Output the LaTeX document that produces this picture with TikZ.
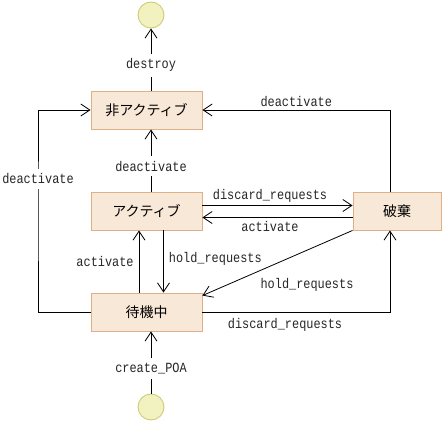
\documentclass[tikz,border=0pt]{standalone}
\usepackage{fontspec}
\setmonofont{Liberation Mono}[FakeStretch=0.85]
\newfontfamily\jpfont{Noto Sans CJK JP}
\usetikzlibrary{arrows.meta}
\definecolor{boxfill}{HTML}{F8E8D8}
\definecolor{boxline}{HTML}{DDB088}
\definecolor{circfill}{HTML}{F2F2C0}
\definecolor{circline}{HTML}{CCCC77}
\tikzset{
  state/.style={draw=boxline, fill=boxfill, line width=0.9pt, minimum height=38pt, inner sep=0pt, font=\jpfont\fontsize{14}{14}\selectfont},
  ends/.style={circle, draw=circline, fill=circfill, line width=0.9pt, minimum size=26pt, inner sep=0pt},
  arr/.style={line width=0.8pt, -{Straight Barb[length=9pt,width=12pt,line width=0.8pt]}},
  lbl/.style={font=\ttfamily\fontsize{14}{14}\selectfont, inner sep=1pt, text=black!85},
  cut/.style={lbl, fill=white, inner xsep=1pt, inner ysep=5pt}
}
\begin{document}
\begin{tikzpicture}[x=1pt,y=-1pt]
\useasboundingbox (0,0) rectangle (445,423);
\node[ends] (endc) at (151,15) {};
\node[ends] (startc) at (151,407) {};
\node[state, minimum width=111pt] (ina) at (146.5,110) {非アクティブ};
\node[state, minimum width=111pt] (act) at (146.5,211) {アクティブ};
\node[state, minimum width=111pt] (wai) at (146.5,312) {待機中};
\node[state, minimum width=88pt] (hak) at (397,211) {破棄};
\coordinate (lft) at (38,211);

% destroy
\draw[arr] (ina.north -| endc.south) -- node[cut, pos=0.41] {destroy} (endc.south);
% deactivate act -> ina
\draw[arr] (act.north -| endc.south) -- node[cut, pos=0.41] {deactivate} (ina.south -| endc.south);
% discard_requests act -> hak
\draw[arr] ([yshift=5.5pt]act.east) -- node[lbl, above=2pt, pos=0.45] {discard\_requests} ([yshift=5.5pt]hak.west);
% activate hak -> act
\draw[arr] ([yshift=-6.5pt]hak.west) -- node[lbl, below=2pt, pos=0.55] {activate} ([yshift=-6.5pt]act.east);
% activate wai -> act
\draw[arr] ([xshift=-7.5pt]wai.north) -- node[lbl, left=4pt] {activate} ([xshift=-7.5pt]act.south);
% hold_requests act -> wai
\draw[arr] ([xshift=17pt]act.south) -- node[lbl, right=4pt, pos=0.45] {hold\_requests} ([xshift=17pt]wai.north);
% hold_requests hak -> wai
\draw[arr] (hak.south west) -- ([yshift=-3pt]wai.north east);
\node[lbl] (hr2) at (307,285) {hold\_requests};
% discard_requests wai -> hak
\draw[arr] (wai.east) -| ([xshift=-7pt]hak.south);
\node[lbl] (dr2) at (285,325) {discard\_requests};
% deactivate hak -> ina
\draw[arr] ([xshift=-7pt]hak.north) |- node[lbl, pos=0.75, above=2pt] {deactivate} (ina.east);
% deactivate wai -> ina (left loop)
\draw[arr] (wai.west) -| (lft) |- (ina.west);
\node[cut] (dl) at (38,179) {deactivate};
% create_POA
\draw[arr] (startc.north) -- node[cut, pos=0.41] {create\_POA} (wai.south -| startc.north);
\end{tikzpicture}
\end{document}
